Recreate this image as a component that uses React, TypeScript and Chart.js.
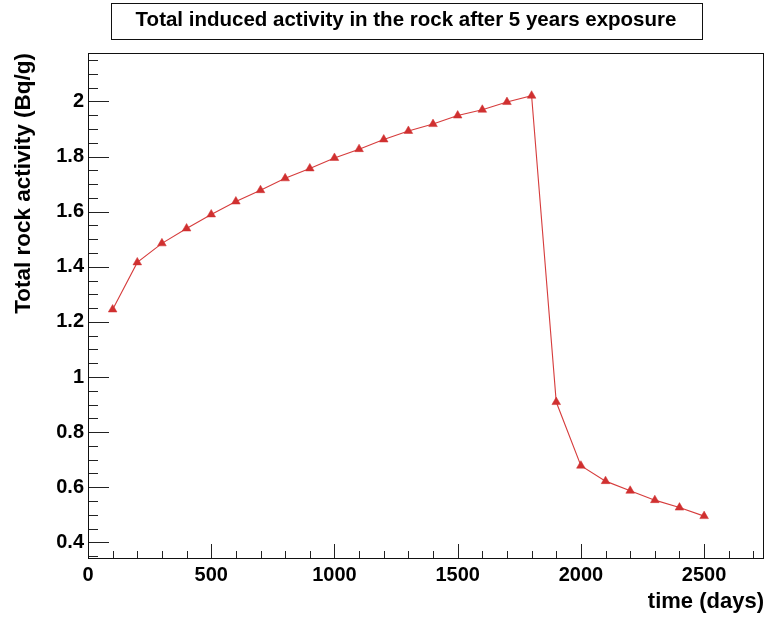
import React, { useEffect, useRef } from 'react';
import { Chart, registerables } from 'chart.js';

Chart.register(...registerables);

// ---- data ----
const days = [100, 200, 300, 400, 500, 600, 700, 800, 900, 1000, 1100, 1200, 1300, 1400, 1500, 1600, 1700, 1800, 1900, 2000, 2100, 2200, 2300, 2400, 2500];
const activity = [1.245, 1.416, 1.485, 1.539, 1.590, 1.637, 1.678, 1.721, 1.757, 1.795, 1.827, 1.862, 1.893, 1.918, 1.949, 1.970, 1.998, 2.021, 0.909, 0.678, 0.622, 0.587, 0.553, 0.526, 0.495];
const xTickValues = [0, 500, 1000, 1500, 2000, 2500];
const yTickValues = [0.4, 0.6, 0.8, 1, 1.2, 1.4, 1.6, 1.8, 2];
const xRange = [0, 2743];
const yRange = [0.343, 2.176];
const xMinorStep = 100;
const yMinorStep = 0.05;
const chartTitle = 'Total induced activity in the rock after 5 years exposure';
const xTitle = 'time (days)';
const yTitle = 'Total rock activity (Bq/g)';

const FONT = "'Liberation Sans', Arial, Helvetica, sans-serif";
const TITLE_SIZE = 20.5;
const TITLE_CENTER = 406;

const rootFrame = {
  id: 'rootFrame',
  afterLayout(chart: any) {
    const tb = chart.titleBlock;
    if (tb) {
      tb.left = TITLE_CENTER - 340;
      tb.right = TITLE_CENTER + 340;
    }
  },
  beforeDatasetsDraw(chart: any) {
    const { ctx, chartArea: a, scales } = chart;
    const x = scales.x;
    const y = scales.y;
    ctx.save();
    ctx.strokeStyle = '#222';
    ctx.lineWidth = 1;
    ctx.beginPath();
    for (let k = Math.ceil(yRange[0] / yMinorStep); k * yMinorStep <= yRange[1] + 1e-9; k++) {
      const v = k * yMinorStep;
      const py = Math.round(y.getPixelForValue(v)) + 0.5;
      const major = k % 4 === 0;
      const len = major ? 21 : 10;
      ctx.moveTo(a.left, py);
      ctx.lineTo(a.left + len, py);
    }
    for (let k = 1; k * xMinorStep <= xRange[1]; k++) {
      const v = k * xMinorStep;
      const px = Math.round(x.getPixelForValue(v)) + 0.5;
      const major = k % 5 === 0;
      const len = major ? 14 : 7;
      ctx.moveTo(px, a.bottom);
      ctx.lineTo(px, a.bottom - len);
    }
    ctx.stroke();
    ctx.strokeStyle = '#111';
    ctx.strokeRect(a.left + 0.5, a.top + 0.5, a.right - a.left - 1, a.bottom - a.top);
    ctx.restore();
  },
  afterDraw(chart: any) {
    const ctx = chart.ctx;
    ctx.save();
    ctx.font = `bold ${TITLE_SIZE}px ${FONT}`;
    const w = ctx.measureText(chartTitle).width;
    ctx.strokeStyle = '#111';
    ctx.lineWidth = 1;
    const bx = Math.round(TITLE_CENTER - w / 2 - 25) + 0.5;
    ctx.strokeRect(bx, 3.5, Math.round(w + 50), 36);
    ctx.restore();
  },
};

export default function App() {
  const ref = useRef<HTMLCanvasElement | null>(null);

  useEffect(() => {
    if (!ref.current) return;
    const chart = new Chart(ref.current, {
      type: 'line',
      data: {
        datasets: [
          {
            data: days.map((d, i) => ({ x: d, y: activity[i] })),
            borderColor: '#d63c3c',
            borderWidth: 1.1,
            backgroundColor: '#d03030',
            pointStyle: 'triangle',
            pointRadius: 5,
            pointBackgroundColor: '#d03030',
            pointBorderColor: '#d03030',
            pointBorderWidth: 0.5,
            tension: 0,
            fill: false,
          },
        ],
      },
      options: {
        responsive: false,
        maintainAspectRatio: false,
        devicePixelRatio: 1,
        animation: false,
        layout: { autoPadding: false, padding: { top: 0, left: 0, right: 0, bottom: 0 } },
        plugins: {
          legend: { display: false },
          tooltip: { enabled: false },
          title: {
            display: true,
            text: chartTitle,
            color: '#000',
            font: { family: FONT, size: TITLE_SIZE, weight: 'bold' },
            padding: { top: 7.7, bottom: 20.7 },
          },
        },
        scales: {
          x: {
            type: 'linear',
            min: xRange[0],
            max: xRange[1],
            afterBuildTicks: (s: any) => {
              s.ticks = xTickValues.map((v) => ({ value: v }));
            },
            afterFit: (s: any) => {
              s.height = 60;
            },
            grid: { display: false, drawTicks: false },
            border: { display: false },
            ticks: {
              autoSkip: false,
              maxRotation: 0,
              padding: 5,
              color: '#000',
              font: { family: FONT, size: 20, weight: 'bold' },
              callback: (v: any) => String(v),
            },
            title: {
              display: true,
              text: xTitle,
              align: 'end',
              color: '#000',
              font: { family: FONT, size: 22, weight: 'bold' },
              padding: { top: 0, bottom: 3 },
            },
          },
          y: {
            type: 'linear',
            min: yRange[0],
            max: yRange[1],
            afterBuildTicks: (s: any) => {
              s.ticks = yTickValues.map((v) => ({ value: v }));
            },
            afterFit: (s: any) => {
              s.width = 88;
            },
            grid: { display: false, drawTicks: false },
            border: { display: false },
            ticks: {
              autoSkip: false,
              padding: 4,
              color: '#000',
              font: { family: FONT, size: 20, weight: 'bold' },
              callback: (v: any) => String(v),
            },
            title: {
              display: true,
              text: yTitle,
              align: 'end',
              color: '#000',
              font: { family: FONT, size: 22.5, weight: 'bold' },
              padding: { top: 10, bottom: 0 },
            },
          },
        },
      } as any,
      plugins: [rootFrame as any],
    });
    return () => chart.destroy();
  }, []);

  return (
    <canvas
      ref={ref}
      width={764}
      height={618}
      style={{ display: 'block', position: 'absolute', left: 0, top: 0 }}
    />
  );
}
